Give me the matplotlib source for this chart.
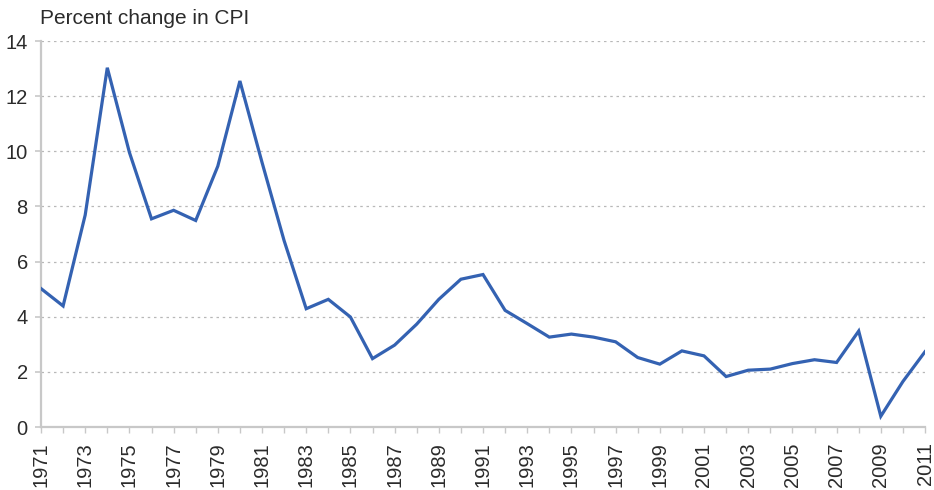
import matplotlib
matplotlib.use("Agg")
import matplotlib.pyplot as plt
from matplotlib.ticker import MultipleLocator

years = list(range(1971, 2012))
cpi_change = [5.02, 4.39, 7.69, 13.03, 9.96, 7.55, 7.86, 7.49, 9.46, 12.55,
              9.6, 6.76, 4.29, 4.63, 3.99, 2.48, 2.97, 3.73, 4.63, 5.36,
              5.53, 4.23, 3.75, 3.26, 3.37, 3.26, 3.09, 2.52, 2.28, 2.76,
              2.58, 1.83, 2.06, 2.10, 2.30, 2.44, 2.34, 3.48, 0.39, 1.65,
              2.73]
title_text = "Percent change in CPI"
x_tick_labels = [str(y) for y in range(1971, 2012, 2)]
y_ticks = [0, 2, 4, 6, 8, 10, 12, 14]

plt.rcParams['font.family'] = ['Liberation Sans', 'DejaVu Sans']

fig = plt.figure(figsize=(9.34, 4.90), dpi=100)
ax = fig.add_axes([41/934, 63/490, 884/934, 386/490])

ax.plot(years, cpi_change, color='#3462b2', lw=2.3, solid_joinstyle='miter', zorder=3)

ax.set_xlim(1971, 2011)
ax.set_ylim(0, 14)
ax.set_yticks(y_ticks)
ax.set_yticklabels([str(v) for v in y_ticks])
ax.set_xticks(list(range(1971, 2012, 2)))
ax.set_xticklabels(x_tick_labels, rotation=90)
ax.xaxis.set_minor_locator(MultipleLocator(1))

grey = '#c8c8c8'
txt = '#2b2b2b'
for s in ['top', 'right']:
    ax.spines[s].set_visible(False)
ax.spines['left'].set_color(grey)
ax.spines['left'].set_linewidth(1.6)
ax.spines['bottom'].set_color(grey)
ax.spines['bottom'].set_linewidth(1.6)

ax.tick_params(axis='y', length=4, width=1.2, color=grey, pad=5.5,
               labelsize=14.5, labelcolor=txt)
ax.tick_params(axis='x', which='both', length=4, width=1.0, color=grey, pad=7,
               labelsize=14.5, labelcolor=txt)

ax.yaxis.grid(True, linestyle=(0, (2, 3)), color='#b8b8b8', linewidth=0.9)
ax.set_axisbelow(True)

fig.text(40/934, 1 - 24/490, title_text, fontsize=15, color=txt,
         ha='left', va='baseline')

fig.savefig('out.png', dpi=100)
